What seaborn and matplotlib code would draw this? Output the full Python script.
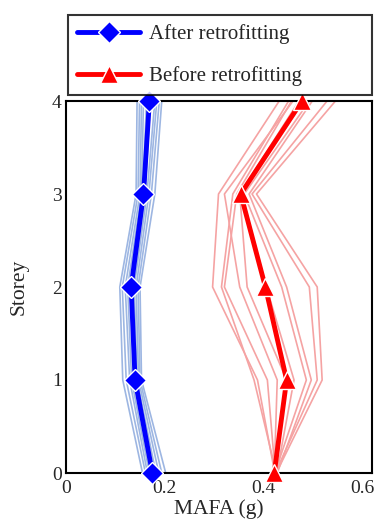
import numpy as np
import pandas as pd
import seaborn as sns
import matplotlib.pyplot as plt
from matplotlib.lines import Line2D

storeys = [0, 1, 2, 3, 4]

# Individual record curves, before retrofitting (MAFA in g, storey 0..4)
before_records = [
    [0.423, 0.388, 0.297, 0.309, 0.432],
    [0.426, 0.381, 0.315, 0.338, 0.451],
    [0.424, 0.408, 0.321, 0.346, 0.457],
    [0.422, 0.428, 0.352, 0.321, 0.460],
    [0.425, 0.447, 0.367, 0.352, 0.472],
    [0.427, 0.462, 0.406, 0.356, 0.482],
    [0.423, 0.487, 0.437, 0.361, 0.493],
    [0.428, 0.497, 0.447, 0.371, 0.499],
    [0.424, 0.509, 0.493, 0.377, 0.529],
    [0.426, 0.519, 0.509, 0.386, 0.546],
]

# Individual record curves, after retrofitting
after_records = [
    [0.155, 0.115, 0.109, 0.142, 0.144],
    [0.161, 0.122, 0.114, 0.146, 0.149],
    [0.165, 0.129, 0.120, 0.150, 0.153],
    [0.169, 0.133, 0.125, 0.153, 0.157],
    [0.173, 0.138, 0.130, 0.156, 0.163],
    [0.177, 0.141, 0.134, 0.160, 0.171],
    [0.182, 0.144, 0.138, 0.164, 0.180],
    [0.188, 0.147, 0.142, 0.168, 0.184],
    [0.194, 0.150, 0.146, 0.173, 0.189],
    [0.202, 0.153, 0.150, 0.180, 0.194],
]

# Mean curves
before_mean = [0.422, 0.447, 0.404, 0.354, 0.478]
after_mean = [0.175, 0.140, 0.132, 0.157, 0.169]

legend_labels = ["After retrofitting", "Before retrofitting"]
x_ticks = [0, 0.2, 0.4, 0.6]
x_ticklabels = ["0", "0.2", "0.4", "0.6"]
y_ticks = [0, 1, 2, 3, 4]


def long_form(records):
    rows = []
    for i, rec in enumerate(records):
        for s, v in zip(storeys, rec):
            rows.append({"record": i, "storey": s, "mafa": v})
    return pd.DataFrame(rows)


df_before = long_form(before_records)
df_after = long_form(after_records)
df_mean_before = pd.DataFrame({"storey": storeys, "mafa": before_mean})
df_mean_after = pd.DataFrame({"storey": storeys, "mafa": after_mean})

sns.set_style("white")
plt.rcParams["font.family"] = ["Liberation Serif", "DejaVu Serif"]

fig = plt.figure(figsize=(3.76, 5.24), dpi=100)
ax = fig.add_axes([66 / 376, 1 - 473 / 524, (372 - 66) / 376, (473 - 101) / 524])

light_blue = "#9db6e2"
light_red = "#f5a3a3"

sns.lineplot(data=df_after, x="mafa", y="storey", units="record", estimator=None,
             orient="y", sort=False, color=light_blue, lw=1.2, ax=ax, legend=False)
sns.lineplot(data=df_before, x="mafa", y="storey", units="record", estimator=None,
             orient="y", sort=False, color=light_red, lw=1.2, ax=ax, legend=False)

sns.lineplot(data=df_mean_after, x="mafa", y="storey", orient="y", sort=False,
             color="#0000ff", lw=3.5, marker="D", markersize=11,
             markeredgecolor="white", markeredgewidth=1.0, ax=ax, legend=False)
sns.lineplot(data=df_mean_before, x="mafa", y="storey", orient="y", sort=False,
             color="#ff0000", lw=3.5, marker="^", markersize=13,
             markeredgecolor="white", markeredgewidth=1.0, ax=ax, legend=False)

for ln in ax.lines:
    ln.set_clip_on(False)
ax.lines[-1].set_zorder(5)
ax.lines[-2].set_zorder(5)

ax.set_xlim(0, 0.62)
ax.set_ylim(0, 4)
ax.set_xticks(x_ticks)
ax.set_xticklabels(x_ticklabels)
ax.set_yticks(y_ticks)
ax.tick_params(direction="in", length=7, width=1.5, labelsize=14, color="black")
ax.tick_params(axis="x", pad=5)
ax.tick_params(axis="y", pad=3)
for sp in ax.spines.values():
    sp.set_linewidth(1.5)
    sp.set_color("black")
    sp.set_zorder(4)
ax.set_xlabel("MAFA (g)", fontsize=15.5, labelpad=2)
ax.set_ylabel("Storey", fontsize=15.5, labelpad=17)

handles = [
    Line2D([], [], color="#0000ff", lw=3.5, marker="D", markersize=11,
           markeredgecolor="white", markeredgewidth=1.0),
    Line2D([], [], color="#ff0000", lw=3.5, marker="^", markersize=13,
           markeredgecolor="white", markeredgewidth=1.0),
]
leg = fig.legend(handles, legend_labels, loc="center left",
                 bbox_to_anchor=(68 / 376, 1 - 95 / 524, (372 - 68) / 376, 80 / 524),
                 mode="expand", fontsize=15, frameon=True, fancybox=False,
                 edgecolor="black", handlelength=3.0, handletextpad=0.45,
                 labelspacing=1.05, borderpad=0.45, borderaxespad=0)
leg.get_frame().set_linewidth(1.5)

fig.savefig("out.png", dpi=100)
